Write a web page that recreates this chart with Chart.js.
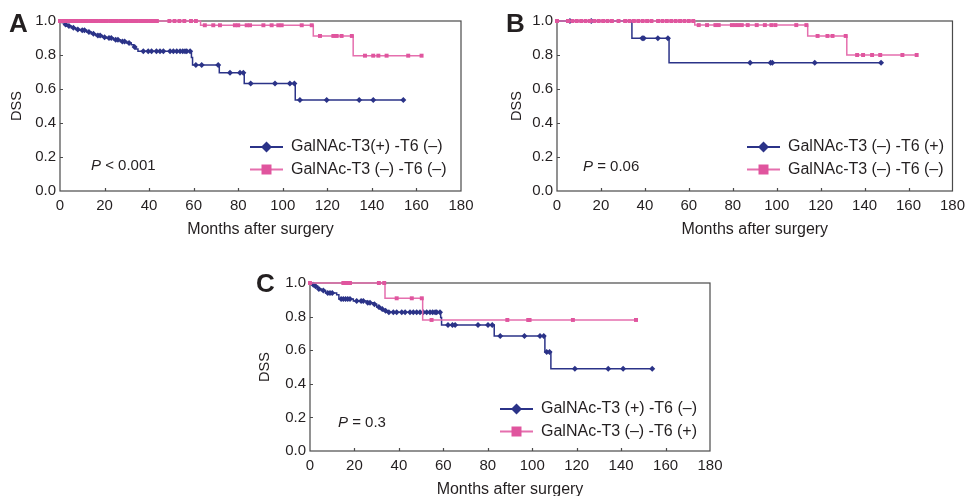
<!DOCTYPE html>
<html>
<head>
<meta charset="utf-8">
<script src="https://cdn.jsdelivr.net/npm/chart.js@4.4.0/dist/chart.umd.min.js"></script>
<style>
  html, body { margin: 0; padding: 0; background: #fff; overflow: hidden; width: 971px; height: 496px; }
  canvas { position: absolute; }
</style>
</head>
<body>
<canvas id="chartA" width="480" height="245" style="left:0px;top:0px"></canvas>
<canvas id="chartB" width="474" height="245" style="left:497px;top:0px"></canvas>
<canvas id="chartC" width="480" height="245" style="left:250px;top:262px"></canvas>
<script>
// axis ticks
const monthTicks = [0, 20, 40, 60, 80, 100, 120, 140, 160, 180]
const dssTicks = [0, 0.2, 0.4, 0.6, 0.8, 1.0]

// panel A : event times / survival after each event / censored times
const aBlueT = [1, 2, 3, 5, 7, 9, 12, 14, 16, 19, 21, 24, 27, 30, 32, 33, 34, 35, 59, 59.5, 71.5, 82.7, 105.6]
const aBlueS = [0.99, 0.98, 0.97, 0.96, 0.95, 0.945, 0.935, 0.925, 0.915, 0.905, 0.9, 0.89, 0.88, 0.87, 0.86, 0.847, 0.835, 0.822, 0.785, 0.741, 0.696, 0.633, 0.535]
const aBlueCens = [2.5, 4, 6, 8, 10, 11, 13, 15, 17, 18, 20, 22, 23, 25, 26, 28, 29, 31, 33.5,
  37.4, 39.6, 41.1, 43.3, 44.9, 46.4, 49.4, 50.9, 52.4, 53.9, 55.1, 56.1, 56.9, 58.4,
  61, 63.6, 71, 76.3, 80.8, 82.3, 85.6, 96.5, 103.2, 105.2, 107.7, 119.7, 134.3, 140.6, 154.1]
const aPinkT = [63.1, 113.7, 131.6]
const aPinkS = [0.975, 0.912, 0.796]
const aPinkCens = [0, 1.5, 3, 4.5, 6, 7.5, 9, 10.5, 12, 13.5, 15, 16.5, 18, 19.5, 21, 22.5, 24, 25.5, 27, 28.5,
  30, 31.5, 33, 34.5, 36, 37.5, 39, 40.5, 42, 43.5, 49.1, 51.4, 53.6, 55.8, 58.8, 61,
  65, 68.8, 71.8, 78.5, 80, 83.8, 85.3, 91.3, 95, 98, 99.5, 108.5, 113,
  116.7, 122.7, 124.2, 126.4, 131, 136.9, 140.6, 142.9, 146.6, 156.3, 162.3]

// panel B
const bBlueT = [34.1, 51]
const bBlueS = [0.898, 0.755]
const bBlueCens = [5.9, 15.6, 38.8, 39.5, 45.9, 50.5, 87.9, 97.2, 98, 117.3, 147.5]
const bPinkT = [62.7, 114.1, 131.9]
const bPinkS = [0.976, 0.912, 0.8]
const bPinkCens = [0, 5, 7, 9, 11, 13, 15, 17, 19, 21, 23, 25, 28, 31, 33, 35, 37, 39, 41, 43, 46, 48, 50, 52,
  54, 56, 58, 60, 62, 64.5, 68.3, 72.1, 73.6, 79.6, 81.1, 82.6, 84.1, 86.8, 90.9, 94.6, 97.6, 99.4,
  108.9, 113.5, 118.6, 123.1, 125.4, 131.4, 136.6, 139.3, 143.4, 147.1, 157.2, 163.7]

// panel C
const cBlueT = [1, 2, 3.5, 5, 7, 12, 13, 19.5, 25.5, 28.5, 30, 31.5, 33, 34.5, 58.8, 59.2, 82.9, 105.7, 108.4]
const cBlueS = [0.99, 0.98, 0.965, 0.955, 0.94, 0.93, 0.905, 0.893, 0.883, 0.873, 0.857, 0.845, 0.835, 0.826, 0.795, 0.75, 0.685, 0.59, 0.49]
const cBlueCens = [1.5, 2.5, 4, 6, 8, 9, 10, 14, 15, 16, 17, 18, 21, 23, 24, 26, 27, 29, 31, 32.5, 34, 35.5,
  37.5, 39, 41.3, 42.8, 45, 46.5, 48, 49.5, 51, 52.5, 54, 55.2, 56.3, 57, 58.5,
  62.1, 64.1, 65.3, 75.6, 80.1, 82, 85.6, 96.5, 103.5, 105.2, 106.5, 107.8, 119.2, 134.2, 140.9, 154]
const cPinkT = [33.75, 50.7]
const cPinkS = [0.909, 0.78]
const cPinkCens = [0, 15, 16.5, 18, 31, 33.4, 39, 45.8, 50.3, 54.7, 88.8, 98.2, 98.8, 118.3, 146.7]

const BLUE = '#2b3388'
const PINK = '#e0559e'
const PINK_LINE = '#e56fae'
const FONT = '"Liberation Sans", Arial, sans-serif'
const INK = '#231f20'

function survAt(evT, evS, t) {
  let s = 1
  evT.forEach((e, i) => { if (e <= t) s = evS[i] })
  return s
}

function stepPoints(evT, evS, cens) {
  const pts = [{x: 0, y: 1}]
  evT.forEach((t, i) => pts.push({x: t, y: evS[i]}))
  const end = Math.max(...cens, ...evT)
  pts.push({x: end, y: survAt(evT, evS, end)})
  return pts
}

function censPoints(evT, evS, cens) {
  return cens.map(t => ({x: t, y: survAt(evT, evS, t)}))
}

function drawMarker(ctx, style, x, y, r, color) {
  ctx.fillStyle = color
  ctx.beginPath()
  if (style === 'rect') {
    ctx.rect(x - r, y - r, 2 * r, 2 * r)
  } else {
    ctx.moveTo(x, y - r); ctx.lineTo(x + r, y); ctx.lineTo(x, y + r); ctx.lineTo(x - r, y)
    ctx.closePath()
  }
  ctx.fill()
}

// frame, inner ticks and texts
const panelDeco = {
  id: 'panelDeco',
  beforeDatasetsDraw(chart) {
    const {ctx, chartArea: a, scales} = chart
    ctx.save()
    ctx.strokeStyle = '#4a4a4a'
    ctx.lineWidth = 1.2
    ctx.strokeRect(a.left, a.top, a.right - a.left, a.bottom - a.top)
    ctx.beginPath()
    monthTicks.slice(1, -1).forEach(v => {
      const x = Math.round(scales.x.getPixelForValue(v)) + 0.5
      ctx.moveTo(x, a.bottom); ctx.lineTo(x, a.bottom - 3)
    })
    dssTicks.slice(1, -1).forEach(v => {
      const y = Math.round(scales.y.getPixelForValue(v)) + 0.5
      ctx.moveTo(a.left, y); ctx.lineTo(a.left + 3, y)
    })
    ctx.stroke()
    ctx.restore()
  },
  afterDraw(chart) {
    const o = chart.options.plugins.panelDeco
    const ctx = chart.ctx
    ctx.save()
    ctx.fillStyle = INK
    ctx.textBaseline = 'alphabetic'
    ctx.font = 'bold 26px ' + FONT
    ctx.fillText(o.letter, o.letterX, o.letterY)

    ctx.textBaseline = 'middle'
    ctx.font = 'italic 15px ' + FONT
    ctx.fillText('P', o.pX, o.pY)
    const w = ctx.measureText('P').width
    ctx.font = '15px ' + FONT
    ctx.fillText(o.pText, o.pX + w, o.pY)

    o.legend.forEach((item, i) => {
      const y = 147 + i * 22.5
      ctx.strokeStyle = item.color
      ctx.lineWidth = 2
      ctx.beginPath(); ctx.moveTo(250, y); ctx.lineTo(283, y); ctx.stroke()
      drawMarker(ctx, item.style, 266.5, y, item.style === 'rect' ? 5 : 5.5, item.marker)
      ctx.fillStyle = INK
      ctx.font = '16px ' + FONT
      ctx.fillText(item.label, 291, y)
    })
    ctx.restore()
  }
}

function makePanel(id, lay, groups, deco) {
  const datasets = []
  groups.forEach(g => {
    datasets.push({
      type: 'scatter',
      data: censPoints(g.t, g.s, g.cens),
      showLine: false,
      clip: false,
      pointStyle: g.style,
      pointRadius: g.style === 'rect' ? 2.8 : 3,
      pointBackgroundColor: g.marker,
      pointBorderWidth: 0
    })
    datasets.push({
      type: 'scatter',
      data: stepPoints(g.t, g.s, g.cens),
      showLine: true,
      stepped: true,
      clip: false,
      borderColor: g.color,
      borderWidth: 1.5,
      pointRadius: 0
    })
  })
  return new Chart(document.getElementById(id), {
    type: 'scatter',
    data: {datasets},
    options: {
      responsive: false,
      animation: false,
      events: [],
      layout: {padding: {left: 0, top: lay.top, right: lay.right, bottom: 0}},
      plugins: {legend: {display: false}, tooltip: {enabled: false}, panelDeco: deco},
      scales: {
        x: {
          type: 'linear', min: 0, max: 180,
          afterBuildTicks: s => { s.ticks = monthTicks.map(v => ({value: v})) },
          afterFit: s => { s.height = lay.xHeight },
          grid: {display: false, drawTicks: false},
          border: {display: false},
          ticks: {padding: 6, color: INK, font: {family: FONT, size: 15}, maxRotation: 0},
          title: {display: true, text: 'Months after surgery', color: INK,
                  font: {family: FONT, size: 16}, padding: {top: 0, bottom: lay.titlePad}}
        },
        y: {
          type: 'linear', min: 0, max: 1,
          afterBuildTicks: s => { s.ticks = dssTicks.map(v => ({value: v})) },
          afterFit: s => { s.width = 60 },
          grid: {display: false, drawTicks: false},
          border: {display: false},
          ticks: {padding: 4, color: INK, font: {family: FONT, size: 15}, callback: v => v.toFixed(1)},
          title: {display: true, text: 'DSS', color: INK,
                  font: {family: FONT, size: 14.5}, padding: {top: lay.dssPad, bottom: 0}}
        }
      }
    },
    plugins: [panelDeco]
  })
}

const chartA = makePanel('chartA',
  {top: 21, right: 19, xHeight: 54, titlePad: 5.5, dssPad: 8.5},
  [
    {t: aPinkT, s: aPinkS, cens: aPinkCens, color: PINK_LINE, marker: PINK, style: 'rect'},
    {t: aBlueT, s: aBlueS, cens: aBlueCens, color: BLUE, marker: BLUE, style: 'rectRot'}
  ],
  {letter: 'A', letterX: 9, letterY: 32, pText: ' < 0.001', pX: 91, pY: 166,
   legend: [
     {label: 'GalNAc-T3(+) -T6 (–)', color: BLUE, marker: BLUE, style: 'rectRot'},
     {label: 'GalNAc-T3 (–) -T6 (–)', color: PINK_LINE, marker: PINK, style: 'rect'}
   ]})

const chartB = makePanel('chartB',
  {top: 21, right: 15, xHeight: 54, titlePad: 5.5, dssPad: 11.5},
  [
    {t: bPinkT, s: bPinkS, cens: bPinkCens, color: PINK_LINE, marker: PINK, style: 'rect'},
    {t: bBlueT, s: bBlueS, cens: bBlueCens, color: BLUE, marker: BLUE, style: 'rectRot'}
  ],
  {letter: 'B', letterX: 9, letterY: 32, pText: ' = 0.06', pX: 86, pY: 167,
   legend: [
     {label: 'GalNAc-T3 (–) -T6 (+)', color: BLUE, marker: BLUE, style: 'rectRot'},
     {label: 'GalNAc-T3 (–) -T6 (–)', color: PINK_LINE, marker: PINK, style: 'rect'}
   ]})

const chartC = makePanel('chartC',
  {top: 21, right: 20, xHeight: 56, titlePad: 7.5, dssPad: 6.5},
  [
    {t: cPinkT, s: cPinkS, cens: cPinkCens, color: PINK_LINE, marker: PINK, style: 'rect'},
    {t: cBlueT, s: cBlueS, cens: cBlueCens, color: BLUE, marker: BLUE, style: 'rectRot'}
  ],
  {letter: 'C', letterX: 6, letterY: 30, pText: ' = 0.3', pX: 88, pY: 161,
   legend: [
     {label: 'GalNAc-T3 (+) -T6 (–)', color: BLUE, marker: BLUE, style: 'rectRot'},
     {label: 'GalNAc-T3 (–) -T6 (+)', color: PINK_LINE, marker: PINK, style: 'rect'}
   ]})
</script>
</body>
</html>
